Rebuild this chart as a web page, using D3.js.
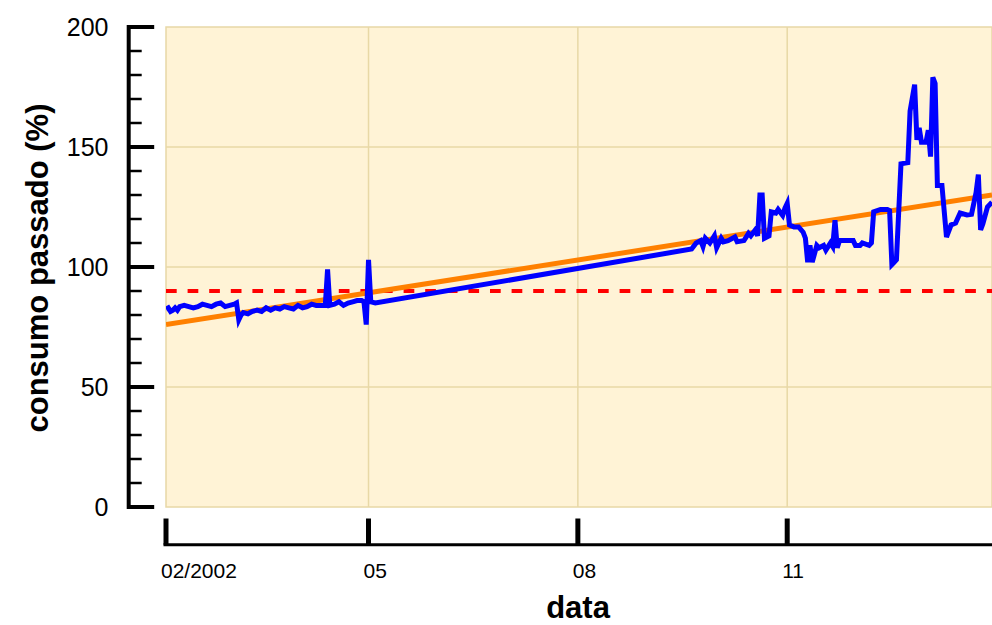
<!DOCTYPE html>
<html>
<head>
<meta charset="utf-8">
<script src="https://cdn.jsdelivr.net/npm/d3@7"></script>
<style>
  html, body { margin: 0; padding: 0; background: #ffffff; }
  svg { display: block; font-family: "Liberation Sans", Arial, sans-serif; }
</style>
</head>
<body>
<svg id="chart" width="992" height="625"></svg>
<script>
// ---- data ----
const dates = [
  "2002-02-01","2002-02-02","2002-02-03","2002-02-04","2002-02-05","2002-02-06","2002-02-07","2002-02-09",
  "2002-02-11","2002-02-13","2002-02-15","2002-02-17","2002-02-19","2002-02-21","2002-02-23","2002-02-25",
  "2002-02-27","2002-03-01","2002-03-03","2002-03-04","2002-03-05","2002-03-06","2002-03-07","2002-03-09",
  "2002-03-11","2002-03-13","2002-03-15","2002-03-17","2002-03-19","2002-03-21","2002-03-23","2002-03-25",
  "2002-03-27","2002-03-29","2002-03-31","2002-04-02","2002-04-04","2002-04-06","2002-04-08","2002-04-10",
  "2002-04-12","2002-04-13","2002-04-14","2002-04-16","2002-04-18","2002-04-20","2002-04-22","2002-04-24",
  "2002-04-26","2002-04-28","2002-04-29","2002-04-30","2002-05-01","2002-05-02","2002-05-04",
  "2002-09-20","2002-09-22","2002-09-24","2002-09-25","2002-09-26","2002-09-28","2002-09-30","2002-10-01",
  "2002-10-03","2002-10-04","2002-10-06","2002-10-09","2002-10-10","2002-10-13","2002-10-15","2002-10-16",
  "2002-10-18","2002-10-19","2002-10-20","2002-10-21","2002-10-22","2002-10-24","2002-10-25","2002-10-27",
  "2002-10-28","2002-10-30","2002-10-31","2002-11-01","2002-11-02","2002-11-04","2002-11-06","2002-11-08",
  "2002-11-09","2002-11-10","2002-11-11","2002-11-12","2002-11-14","2002-11-15","2002-11-17","2002-11-18",
  "2002-11-20","2002-11-21","2002-11-22","2002-11-23","2002-11-24","2002-11-27","2002-11-30","2002-12-01",
  "2002-12-03","2002-12-04","2002-12-07","2002-12-08","2002-12-09","2002-12-12","2002-12-15","2002-12-16",
  "2002-12-17","2002-12-18","2002-12-19","2002-12-21","2002-12-24","2002-12-25","2002-12-27","2002-12-28",
  "2002-12-29","2002-12-30","2003-01-01","2003-01-02","2003-01-03","2003-01-04","2003-01-05","2003-01-06",
  "2003-01-08","2003-01-10","2003-01-12","2003-01-14","2003-01-16","2003-01-19","2003-01-21","2003-01-23",
  "2003-01-24","2003-01-25","2003-01-26","2003-01-28","2003-01-30"
];
const consumo = [
  82.5, 83, 81.5, 82, 83, 82, 83.5, 84,
  83.5, 83, 83.5, 84.5, 84, 83.5, 84.5, 85,
  83.5, 84, 84.5, 85, 78, 80, 81, 80.5,
  81.5, 82, 81.5, 83, 82, 83, 82.5, 83.5,
  83, 82.5, 84, 83, 83.5, 84.5, 84, 84,
  84, 99, 84, 84.5, 85.5, 84, 85, 85.5,
  86, 86, 85.5, 76, 103, 85.5, 85,
  107.5, 110, 111, 108.5, 112, 110, 113, 108,
  112, 110.5, 111, 112.5, 110.5, 111, 114, 113,
  115.5, 113, 130, 130, 112, 113, 123, 122.5,
  124, 121.5, 124.5, 126.5, 117.5, 116.7, 116.7, 114.5,
  112, 102, 109, 102, 109, 108, 109, 107,
  110, 108.5, 119.5, 108, 111, 111, 111, 109,
  109, 110, 109, 110, 123, 124, 124, 123.5,
  101, 102, 103, 143, 143.5, 165, 176, 153,
  158, 152, 152, 157, 146, 179, 176.5, 134,
  134, 112.5, 117.5, 118.3, 122.5, 121.7, 122, 131,
  138.5, 115.5, 118, 125, 127
];
const trendDates = ["2002-02-01", "2003-01-30"];
const trendValues = [76, 130];
const referenceLevel = 90;
const xDomain = ["2002-02-01", "2003-01-30"];
const yDomain = [0, 200];
const xTickDates = ["2002-02-01", "2002-05-01", "2002-08-01", "2002-11-01"];
const xTickLabels = ["02/2002", "05", "08", "11"];
const yMajorTicks = [0, 50, 100, 150, 200];
const yMinorTicks = [10, 20, 30, 40, 60, 70, 80, 90, 110, 120, 130, 140, 160, 170, 180, 190];
const xTitle = "data";
const yTitle = "consumo passado (%)";

// ---- drawing ----
const parse = d3.utcParse("%Y-%m-%d");
const svg = d3.select("#chart");
const plot = { left: 166, right: 992, top: 27, bottom: 507 };

const x = d3.scaleUtc().domain(xDomain.map(parse)).range([plot.left, plot.right]);
const y = d3.scaleLinear().domain(yDomain).range([plot.bottom, plot.top]);

const gridColor = "#e8d8a6";

// plot background
svg.append("rect")
  .attr("x", plot.left).attr("y", plot.top)
  .attr("width", plot.right - plot.left).attr("height", plot.bottom - plot.top)
  .attr("fill", "#fff3d6")
  .attr("stroke", gridColor).attr("stroke-width", 1.5);

// gridlines
svg.append("g").selectAll("line").data(yMajorTicks.filter(v => v > 0 && v < 200)).join("line")
  .attr("x1", plot.left).attr("x2", plot.right)
  .attr("y1", d => y(d)).attr("y2", d => y(d))
  .attr("stroke", gridColor).attr("stroke-width", 1.5);
svg.append("g").selectAll("line").data(xTickDates.slice(1).map(parse)).join("line")
  .attr("x1", d => x(d)).attr("x2", d => x(d))
  .attr("y1", plot.top).attr("y2", plot.bottom)
  .attr("stroke", gridColor).attr("stroke-width", 1.5);

// clip
svg.append("clipPath").attr("id", "clip").append("rect")
  .attr("x", plot.left).attr("y", plot.top - 10)
  .attr("width", plot.right - plot.left).attr("height", plot.bottom - plot.top + 10);

const series = svg.append("g").attr("clip-path", "url(#clip)");

// reference dashed line
series.append("line")
  .attr("x1", plot.left).attr("x2", plot.right)
  .attr("y1", y(referenceLevel)).attr("y2", y(referenceLevel))
  .attr("stroke", "#ff0000").attr("stroke-width", 4)
  .attr("stroke-dasharray", "10.7,10.9");

// trend line
const trendData = trendDates.map((d, i) => ({ date: parse(d), value: trendValues[i] }));
series.append("path")
  .datum(trendData)
  .attr("fill", "none").attr("stroke", "#ff8000").attr("stroke-width", 5)
  .attr("d", d3.line().x(d => x(d.date)).y(d => y(d.value)));

// data line
const data = dates.map((d, i) => ({ date: parse(d), value: consumo[i] }));
series.append("path")
  .datum(data)
  .attr("fill", "none").attr("stroke", "#0000ff").attr("stroke-width", 5)
  .attr("stroke-linejoin", "miter")
  .attr("d", d3.line().x(d => x(d.date)).y(d => y(d.value)));

// y axis
const yAxisX = 128.7;
const yAxis = svg.append("g").attr("transform", `translate(${yAxisX},0)`);
yAxis.append("line").attr("x1", 0).attr("x2", 0)
  .attr("y1", y(200) - 2).attr("y2", y(0) + 2)
  .attr("stroke", "#000").attr("stroke-width", 4);
yAxis.selectAll(".major").data(yMajorTicks).join("line").attr("class", "major")
  .attr("x1", 0).attr("x2", 25.5)
  .attr("y1", d => y(d)).attr("y2", d => y(d))
  .attr("stroke", "#000").attr("stroke-width", 4);
yAxis.selectAll(".minor").data(yMinorTicks).join("line").attr("class", "minor")
  .attr("x1", 0).attr("x2", 13)
  .attr("y1", d => y(d)).attr("y2", d => y(d))
  .attr("stroke", "#000").attr("stroke-width", 2.5);
yAxis.selectAll("text").data(yMajorTicks).join("text")
  .attr("x", 108.5 - yAxisX).attr("y", d => y(d))
  .attr("dy", "0.35em")
  .attr("text-anchor", "end")
  .attr("font-size", 25)
  .attr("fill", "#000")
  .text(d => d);

// x axis
const xAxisY = 544.7;
const xAxis = svg.append("g");
xAxis.append("line")
  .attr("x1", plot.left - 2.5).attr("x2", plot.right)
  .attr("y1", xAxisY).attr("y2", xAxisY)
  .attr("stroke", "#000").attr("stroke-width", 3);
xAxis.selectAll(".tick").data(xTickDates.map(parse)).join("line").attr("class", "tick")
  .attr("x1", d => x(d)).attr("x2", d => x(d))
  .attr("y1", xAxisY).attr("y2", 518.5)
  .attr("stroke", "#000").attr("stroke-width", 5);
xAxis.selectAll("text").data(xTickDates.map(parse)).join("text")
  .attr("x", d => x(d) - 5).attr("y", 578)
  .attr("font-size", 21)
  .attr("fill", "#000")
  .text((d, i) => xTickLabels[i]);

// titles
svg.append("text")
  .attr("x", 578).attr("y", 618)
  .attr("text-anchor", "middle")
  .attr("font-size", 31).attr("font-weight", "bold")
  .text(xTitle);
svg.append("text")
  .attr("transform", "translate(48,268) rotate(-90)")
  .attr("text-anchor", "middle")
  .attr("font-size", 31).attr("font-weight", "bold")
  .text(yTitle);
</script>
</body>
</html>
